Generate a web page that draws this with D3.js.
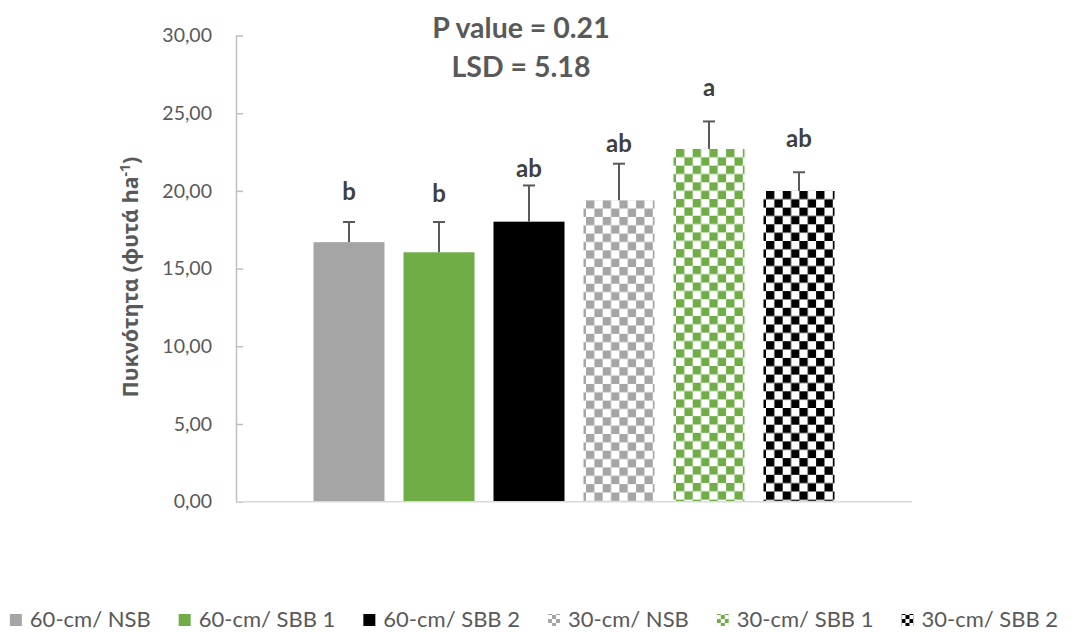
<!DOCTYPE html>
<html>
<head>
<meta charset="utf-8">
<script src="https://cdn.jsdelivr.net/npm/d3@7/dist/d3.min.js"></script>
<style>
  html, body { margin: 0; padding: 0; background: #fff; }
  svg { display: block; font-family: Lato, "Noto Sans", "Open Sans", sans-serif; }
</style>
</head>
<body>
<svg id="chart" width="1084" height="632"></svg>
<script>
// Plant density per treatment (one category, six series)
const treatments = ["60-cm/ NSB", "60-cm/ SBB 1", "60-cm/ SBB 2", "30-cm/ NSB", "30-cm/ SBB 1", "30-cm/ SBB 2"];
const density = [16.70, 16.05, 18.02, 19.40, 22.70, 20.00];
const stdErr = [1.30, 1.95, 2.33, 2.35, 1.77, 1.20];
const groupLetters = ["b", "b", "ab", "ab", "a", "ab"];
// height (in axis units) of each letter's baseline
const letterLevel = [19.40, 19.28, 20.90, 22.50, 26.10, 22.80];
const yTicks = [0, 5, 10, 15, 20, 25, 30];
const titleLines = ["P value = 0.21", "LSD = 5.18"];

const colors = ["#a5a5a5", "#70ad47", "#000000", "#a5a5a5", "#70ad47", "#000000"];
const patterned = [false, false, false, true, true, true];

const svg = d3.select("#chart");
const plot = { left: 236, right: 912, top: 35.5, bottom: 501.7 };

const y = d3.scaleLinear().domain([0, 30]).range([plot.bottom, plot.top]);
const x = d3.scaleBand().domain(treatments)
  .range([plot.left, plot.right]).paddingInner(0.211).paddingOuter(0.861);

// checkerboard fills
const defs = svg.append("defs");
const cell = 8.35;
treatments.forEach((t, i) => {
  if (!patterned[i]) return;
  const p = defs.append("pattern").attr("id", "chk" + i)
    .attr("patternUnits", "userSpaceOnUse")
    .attr("width", cell * 2).attr("height", cell * 2)
    .attr("x", x(t) + 2.5).attr("y", y(density[i]));
  p.append("rect").attr("width", cell * 2).attr("height", cell * 2).attr("fill", "#fff");
  p.append("rect").attr("width", cell).attr("height", cell).attr("fill", colors[i]);
  p.append("rect").attr("x", cell).attr("y", cell).attr("width", cell).attr("height", cell).attr("fill", colors[i]);

  const q = defs.append("pattern").attr("id", "chkS" + i)
    .attr("patternUnits", "userSpaceOnUse")
    .attr("width", 8).attr("height", 8);
  q.append("rect").attr("width", 8).attr("height", 8).attr("fill", "#fff");
  q.append("rect").attr("width", 4).attr("height", 4).attr("fill", colors[i]);
  q.append("rect").attr("x", 4).attr("y", 4).attr("width", 4).attr("height", 4).attr("fill", colors[i]);
});
const fillOf = i => patterned[i] ? `url(#chk${i})` : colors[i];

// y axis
const yAxis = d3.axisLeft(y).tickValues(yTicks)
  .tickFormat(d => d3.format(".2f")(d).replace(".", ","))
  .tickSizeInner(-7).tickSizeOuter(0).tickPadding(24);
const gy = svg.append("g").attr("transform", `translate(${plot.left},0)`).call(yAxis);
gy.select(".domain").attr("stroke", "#bfbfbf").attr("stroke-width", 1.5);
gy.selectAll(".tick line").attr("stroke", "#bfbfbf").attr("stroke-width", 1.5);
gy.selectAll(".tick text").attr("fill", "#595959").attr("font-size", 19.5)
  .attr("font-family", "Lato, sans-serif");

// bars
svg.append("g").selectAll("rect").data(treatments).join("rect")
  .attr("x", d => x(d))
  .attr("y", (d, i) => y(density[i]))
  .attr("width", x.bandwidth())
  .attr("height", (d, i) => y(0) - y(density[i]))
  .attr("fill", (d, i) => fillOf(i));

// x axis baseline
svg.append("line")
  .attr("x1", plot.left).attr("x2", plot.right)
  .attr("y1", y(0)).attr("y2", y(0))
  .attr("stroke", "#d9d9d9").attr("stroke-width", 1.5);

// error bars (upper only)
const eg = svg.append("g").attr("stroke", "#595959").attr("stroke-width", 2);
treatments.forEach((t, i) => {
  const cx = x(t) + x.bandwidth() / 2;
  eg.append("line").attr("x1", cx).attr("x2", cx)
    .attr("y1", y(density[i])).attr("y2", y(density[i] + stdErr[i]));
  eg.append("line").attr("x1", cx - 6).attr("x2", cx + 6)
    .attr("y1", y(density[i] + stdErr[i])).attr("y2", y(density[i] + stdErr[i]));
});

// significance letters
svg.append("g").selectAll("text").data(treatments).join("text")
  .attr("x", d => x(d) + x.bandwidth() / 2)
  .attr("y", (d, i) => y(letterLevel[i]))
  .attr("text-anchor", "middle")
  .attr("font-size", 24).attr("font-weight", 700).attr("fill", "#404040")
  .text((d, i) => groupLetters[i]);

// title
svg.append("g").selectAll("text").data(titleLines).join("text")
  .attr("x", 521).attr("y", (d, i) => 38 + i * 39)
  .attr("text-anchor", "middle")
  .attr("font-size", 28.5).attr("font-weight", 700).attr("fill", "#595959")
  .text(d => d);

// y-axis title
const yt = svg.append("text")
  .attr("transform", `translate(138,277) rotate(-90)`)
  .attr("text-anchor", "middle")
  .attr("font-size", 21.5).attr("font-weight", 700).attr("fill", "#595959")
  .attr("font-family", "'Noto Sans', 'Open Sans', sans-serif");
yt.append("tspan").text("Πυκνότητα (φυτά ha");
yt.append("tspan").attr("dy", -8).attr("font-size", 14).text("-1");
yt.append("tspan").attr("dy", 8).text(")");

// legend
const lg = svg.append("g");
const items = lg.selectAll("g").data(treatments).join("g");
items.append("rect").attr("width", 12).attr("height", 12).attr("y", -13)
  .attr("fill", (d, i) => patterned[i] ? `url(#chkS${i})` : colors[i]);
items.append("text").attr("x", 20).attr("y", 0)
  .attr("font-size", 22).attr("fill", "#595959").text(d => d);
let cursor = 0;
const gap = 28;
items.each(function () {
  const w = 20 + this.querySelector("text").getComputedTextLength();
  d3.select(this).attr("transform", `translate(${cursor},0)`);
  cursor += w + gap;
});
const total = cursor - gap;
lg.attr("transform", `translate(${534 - total / 2},627)`);
</script>
</body>
</html>
